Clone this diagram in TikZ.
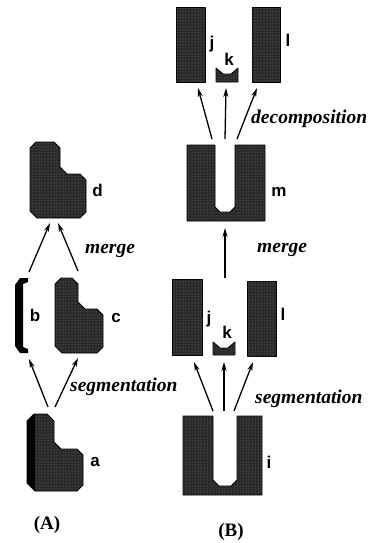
\documentclass[tikz,border=0pt]{standalone}
\usepackage{fontspec}
\setmainfont{Liberation Serif}
\newfontfamily\lblfont{Liberation Sans}
\usetikzlibrary{arrows.meta,patterns}
\begin{document}
\begin{tikzpicture}[x=1pt,y=-1pt,
  blob/.style={fill=black!84,draw=black,line width=0.9pt,line join=round,
    postaction={pattern=dots,pattern color=black!50}},
  darkband/.style={fill=black},
  holder/.style={inner sep=0pt,outer sep=0pt,draw=none,rectangle},
  lbl/.style={inner sep=0pt,font=\lblfont\bfseries\fontsize{17}{20}\selectfont},
  op/.style={inner sep=0pt,font=\bfseries\itshape\fontsize{19.5}{22}\selectfont},
  captxt/.style={inner sep=0pt,font=\bfseries\fontsize{19}{22}\selectfont},
  arr/.style={line width=1.3pt,-{Stealth[length=9pt,width=5pt]}}]
\useasboundingbox (0,0) rectangle (371,543);

% ---------- (A) ----------
\node[holder,minimum width=56pt,minimum height=76pt] (sd) at (58,180) {};
\draw[blob] (30,148)--(36,142)--(54,142)--(60,148)--(60,167)--(67,174)--(80,174)--(86,180)--(86,212)--(80,218)--(37,218)--(30,211)--cycle;
\node[lbl] (ld) at (97.5,190) {d};

\node[holder,minimum width=13pt,minimum height=75pt] (sb) at (21.5,315.5) {};
\fill[darkband] (15,285)--(20,278)--(28,278)--(28,282)--(23,284)--(23,347)--(28,349)--(28,353)--(20,353)--(15,346)--cycle;
\node[lbl] (lb) at (35,315) {b};

\node[holder,minimum width=48pt,minimum height=75pt] (sc) at (79,315.5) {};
\draw[blob] (55,284)--(61,278)--(72,278)--(78,284)--(78,302)--(85,309)--(97,309)--(103,315)--(103,347)--(97,353)--(62,353)--(55,346)--cycle;
\node[lbl] (lc) at (116,318) {c};

\node[holder,minimum width=56pt,minimum height=77pt] (sa) at (55,452.5) {};
\draw[blob] (27,421)--(34,414)--(47,414)--(54,421)--(54,442)--(61,449)--(77,449)--(83,455)--(83,485)--(77,491)--(35,491)--(27,483)--cycle;
\fill[darkband] (27,421)--(34,414)--(35,414)--(35,491)--(27,483)--cycle;
\node[lbl] (la) at (95,462) {a};

\coordinate (a-o1) at (48,407);
\coordinate (a-o2) at (55,407);
\coordinate (b-i) at (29,359);
\coordinate (c-i) at (78,358);
\coordinate (b-o) at (29,272);
\coordinate (c-o) at (78,271);
\coordinate (d-i1) at (50,223);
\coordinate (d-i2) at (58,223);
\draw[arr] (a-o1) -- (b-i);
\draw[arr] (a-o2) -- (c-i);
\draw[arr] (b-o) -- (d-i1);
\draw[arr] (c-o) -- (d-i2);
\node[op,anchor=base] (mergeA) at (110,253) {merge};
\node[op,anchor=base west] (segA) at (70,391) {segmentation};
\node[captxt] (capA) at (47,525) {(A)};

% ---------- (B) top ----------
\node[holder,minimum width=29pt,minimum height=75pt] (tj) at (190.5,44.5) {};
\draw[blob] (176,7) rectangle (205,82);
\node[lbl] (ltj) at (212,44) {j};
\node[holder,minimum width=22pt,minimum height=14pt] (tk) at (227,75) {};
\draw[blob] (216,68)--(223,74)--(231,74)--(238,68)--(238,82)--(216,82)--cycle;
\node[lbl] (ltk) at (229,59) {k};
\node[holder,minimum width=28pt,minimum height=75pt] (tl) at (266,44.5) {};
\draw[blob] (252,7) rectangle (280,82);
\node[lbl] (ltl) at (288,40) {l};

\node[holder,minimum width=78pt,minimum height=76pt] (sm) at (226,183) {};
\draw[blob] (187,145)--(215,145)--(215,207)--(220,212)--(230,212)--(235,207)--(235,145)--(265,145)--(265,221)--(187,221)--cycle;
\node[lbl] (lm) at (279,192) {m};

\coordinate (m-o1) at (212,139);
\coordinate (m-o2) at (225,139);
\coordinate (m-o3) at (237,139);
\coordinate (tj-i) at (198,88);
\coordinate (tk-i) at (226,88);
\coordinate (tl-i) at (257,88);
\draw[arr] (m-o1) -- (tj-i);
\draw[arr] (m-o2) -- (tk-i);
\draw[arr] (m-o3) -- (tl-i);
\node[op,anchor=base west] (dec) at (251,123) {decomposition};

% ---------- (B) bottom ----------
\node[holder,minimum width=30pt,minimum height=76pt] (bj) at (187,317) {};
\draw[blob] (172,279) rectangle (202,355);
\node[lbl] (lbj) at (209,319) {j};
\node[holder,minimum width=22pt,minimum height=13pt] (bk) at (224,348.5) {};
\draw[blob] (213,342)--(220,348)--(228,348)--(235,342)--(235,355)--(213,355)--cycle;
\node[lbl] (lbk) at (227,332) {k};
\node[holder,minimum width=29pt,minimum height=75pt] (bl) at (261.5,318.5) {};
\draw[blob] (247,281) rectangle (276,356);
\node[lbl] (lbl2) at (283,314) {l};

\coordinate (bj-top) at (225,278);
\coordinate (m-i) at (225,228);
\draw[arr] (bj-top) -- (m-i);
\node[op,anchor=base west] (mergeB) at (257,252) {merge};

\node[holder,minimum width=79pt,minimum height=79pt] (si) at (222.5,455.5) {};
\draw[blob] (183,416)--(213,416)--(213,480)--(219,486)--(231,486)--(237,480)--(237,416)--(262,416)--(262,495)--(183,495)--cycle;
\node[lbl] (li) at (269,462) {i};

\coordinate (i-o1) at (213,411);
\coordinate (i-o2) at (224,411);
\coordinate (i-o3) at (234,411);
\coordinate (bj-i) at (194,362);
\coordinate (bk-i) at (224,362);
\coordinate (bl-i) at (253,362);
\draw[arr] (i-o1) -- (bj-i);
\draw[arr] (i-o2) -- (bk-i);
\draw[arr] (i-o3) -- (bl-i);
\node[op,anchor=base west] (segB) at (255,403) {segmentation};
\node[captxt] (capB) at (231,532) {(B)};
\end{tikzpicture}
\end{document}
